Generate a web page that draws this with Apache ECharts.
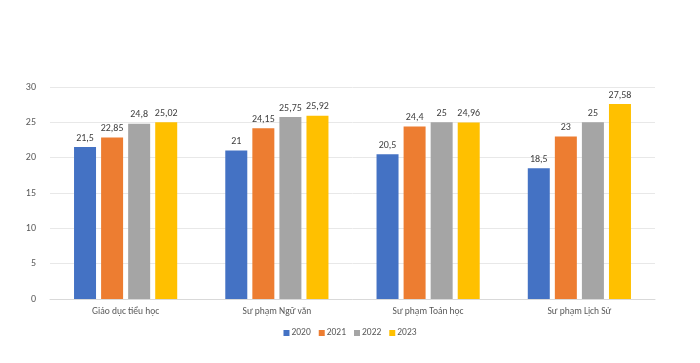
<!DOCTYPE html>
<html><head><meta charset="utf-8">
<script src="https://cdn.jsdelivr.net/npm/echarts@6/dist/echarts.min.js"></script>
<style>html,body{margin:0;padding:0;background:#fff}#c{width:700px;height:363px}</style>
</head><body><div id="c"></div>
<script>
const categories = ['Giáo dục tiểu học', 'Sư phạm Ngữ văn', 'Sư phạm Toán học', 'Sư phạm Lịch Sử'];
const seriesNames = ['2020', '2021', '2022', '2023'];
const v2020 = [21.5, 21, 20.5, 18.5];
const v2021 = [22.85, 24.15, 24.4, 23];
const v2022 = [24.8, 25.75, 25, 25];
const v2023 = [25.02, 25.92, 24.96, 27.58];
const colors = ['#4472C4', '#ED7D31', '#A5A5A5', '#FFC000'];
const values = [v2020, v2021, v2022, v2023];
const font = 'Calibri, "Liberation Sans", "Noto Sans", sans-serif';
const chart = echarts.init(document.getElementById('c'));
chart.setOption({
  animation: false,
  textStyle: {fontFamily: font},
  grid: {left: 50, right: 45, top: 87, bottom: 64, containLabel: false},
  legend: {
    top: 323, left: 'center', itemWidth: 6, itemHeight: 6, itemGap: 8,
    icon: 'rect',
    textStyle: {fontSize: 9.5, color: '#595959', fontFamily: font, padding: [0,0,0,-3]},
    data: seriesNames
  },
  xAxis: {
    type: 'category', data: categories,
    axisLine: {lineStyle: {color: '#D9D9D9'}},
    axisTick: {show: false},
    axisLabel: {fontSize: 9.5, color: '#595959', margin: 8, fontFamily: font}
  },
  yAxis: {
    type: 'value', min: 0, max: 30, interval: 5,
    axisLine: {show: false}, axisTick: {show: false},
    splitLine: {lineStyle: {color: '#E8E8E8'}},
    axisLabel: {fontSize: 10, color: '#595959', margin: 14, fontFamily: font}
  },
  series: seriesNames.map((n, i) => ({
    name: n, type: 'bar', data: values[i],
    barWidth: 22, barGap: '23%', barCategoryGap: '31%',
    itemStyle: {color: colors[i]},
    label: {show: true, position: 'top', fontSize: 10, color: '#404040', distance: 4,
      fontFamily: font,
      formatter: p => String(p.value).replace('.', ',')}
  }))
});
</script></body></html>
